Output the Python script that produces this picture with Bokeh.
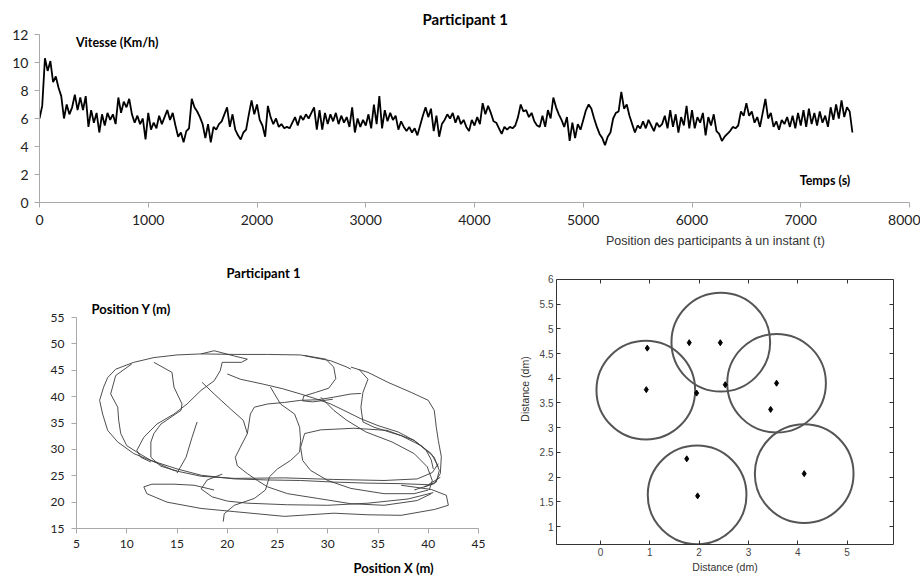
import math
from bokeh.plotting import figure
from bokeh.models import Range1d, Label, FixedTicker, LinearAxis, Title
from bokeh.layouts import column, row
from bokeh.embed import file_html
from bokeh.resources import INLINE

# ---------------- data : speed over time (sampled every 25 s) ----------------
step_s = 25
vitesse = [
    6.0, 6.9, 10.3, 9.4, 10.1, 8.6, 9.0, 8.2, 7.6, 6.0, 7.0, 6.3, 6.8, 7.7, 6.6, 7.5, 6.6, 7.6, 5.4, 6.6,
    5.7, 6.4, 5.0, 6.3, 5.5, 6.4, 5.9, 6.3, 5.6, 7.5, 6.4, 7.2, 6.8, 7.4, 6.3, 5.7, 6.2, 5.6, 6.0, 4.5,
    6.4, 5.2, 5.7, 5.3, 6.2, 5.6, 6.1, 6.6, 5.9, 6.4, 5.5, 4.7, 5.0, 4.3, 5.1, 5.3, 7.4, 6.8, 6.5, 6.1,
    5.6, 4.6, 5.6, 4.3, 5.4, 5.2, 5.6, 5.8, 6.3, 6.8, 5.4, 6.3, 5.2, 4.8, 4.5, 5.0, 5.2, 6.3, 7.3, 6.3,
    7.0, 5.9, 5.5, 4.7, 6.9, 6.1, 5.6, 6.0, 5.4, 5.6, 5.3, 5.4, 5.3, 5.7, 6.1, 5.5, 6.2, 5.9, 6.3, 6.0,
    6.4, 6.8, 5.2, 6.6, 5.2, 6.4, 5.6, 6.3, 5.8, 6.4, 5.6, 6.2, 5.7, 6.1, 5.4, 6.8, 5.0, 6.0, 5.4, 5.9,
    5.5, 6.3, 5.3, 7.0, 5.6, 7.6, 5.3, 6.6, 5.8, 6.4, 5.9, 6.2, 5.2, 5.8, 5.4, 5.1, 5.4, 5.0, 5.3, 4.8,
    5.5, 6.2, 6.8, 6.1, 6.7, 5.1, 6.2, 4.7, 5.6, 5.9, 6.3, 6.0, 6.4, 5.7, 6.2, 5.6, 5.9, 5.4, 5.1, 5.9,
    5.5, 6.1, 5.6, 7.1, 6.3, 6.9, 6.4, 5.8, 5.7, 5.3, 4.9, 5.4, 5.2, 5.4, 5.3, 5.5, 6.1, 7.0, 6.5, 6.6,
    6.1, 6.4, 5.8, 5.5, 5.4, 6.2, 5.4, 6.6, 6.0, 7.5, 6.8, 6.3, 5.9, 5.4, 6.1, 4.4, 5.7, 4.6, 5.6, 5.2,
    5.9, 6.6, 7.0, 6.7, 6.0, 5.4, 4.9, 4.6, 4.1, 4.7, 5.0, 6.0, 6.4, 6.5, 7.9, 6.7, 7.0, 6.2, 5.6, 5.0,
    5.5, 5.3, 5.8, 5.3, 5.9, 5.5, 5.1, 5.7, 5.4, 5.6, 6.2, 5.3, 6.6, 5.4, 6.3, 5.0, 6.1, 5.5, 6.9, 5.3,
    6.6, 5.3, 6.1, 5.7, 6.4, 4.8, 6.1, 5.5, 6.3, 5.1, 4.9, 4.4, 4.7, 4.9, 5.1, 5.4, 5.3, 5.5, 6.5, 6.2,
    7.1, 6.2, 6.5, 5.7, 6.1, 5.4, 6.4, 7.4, 6.0, 6.4, 5.4, 5.8, 5.2, 5.9, 5.6, 6.1, 5.4, 6.2, 5.3, 6.4,
    5.5, 6.6, 5.4, 6.7, 5.6, 6.4, 5.5, 6.5, 5.7, 6.2, 5.4, 6.8, 5.9, 7.0, 6.0, 7.3, 6.1, 6.8, 6.5, 5.0,
]
temps = [i * step_s for i in range(len(vitesse))]
x_ticks_top = [0, 1000, 2000, 3000, 4000, 5000, 6000, 7000, 8000]
y_ticks_top = [0, 2, 4, 6, 8, 10, 12]

# ---------------- data : trajectory strands (X m, Y m) ----------------
strand_01 = [(8.9,45.2),(10.7,46.5),(12.7,47.4),(15,47.9),(17.4,48.1),(20.7,48),(24,48),(27.3,47.9),(28.6,47.4),(30.3,46.8),(31.9,45.6),(32.3,45.2)]
strand_02 = [(32.3,45.6),(34,44.6),(36,42.7),(38.3,40.8),(40,39.3),(40.6,37.4),(40.8,34.2),(41,31.7),(41.3,28.6),(41.2,25.4),(40.6,23.5),(38.6,22.3)]
strand_03 = [(8.9,45.2),(8.1,43.6),(7.7,41.8),(7.3,39.3),(7.6,36.7),(8.1,33.6),(9.1,31.4),(10.7,29.2),(12.4,27.9),(15,26.3),(17.4,25.1),(20.7,24.4),(24,24.2),(27.3,24.1),(30.6,23.8),(34,23.6),(37.3,23.5),(40,23.3),(41.2,24.7)]
strand_04 = [(10.5,46.2),(8.9,44),(8.4,40.5),(9.1,38),(9.2,35.5),(9.4,33),(10,30.7),(11,29.5),(12.4,27.9),(14.7,26),(17.4,24.9),(20.7,24.5),(25.7,24.6),(30.6,24.3),(35.6,24.1),(38.9,24.4),(40.4,25.6),(41,27.3)]
strand_05 = [(17.4,48.1),(18.7,48.7),(20.7,47.7),(22,47.1),(21.4,46.5),(19.5,46.5),(19.3,44.9),(18.7,43),(17.4,41.2),(16,38.6),(14.7,36.7),(13,34.8),(11.7,32.3),(11,29.8),(11.4,28.5),(12.4,27.6)]
strand_06 = [(12.7,46.5),(14.5,44.6),(14.7,41.8),(15.5,38.6),(15.4,37.4),(13.4,34.8),(12.7,33),(12.4,31.4),(12.4,28.5),(13.4,26.8),(15,25.9)]
strand_07 = [(17,35.2),(16.5,32.3),(15.9,28.5),(15,25.5)]
strand_08 = [(17.5,42.7),(18.7,40.5),(20.3,37.7),(21.6,35.5),(22,33),(21.3,30.4),(20.8,28.5),(21,26.9),(22,25.4),(23,24.1),(24,22.9),(26,21.6),(29,20.7),(32.3,19.7),(35.6,19.4),(38.9,20.3),(40.3,21.6)]
strand_09 = [(20,44.3),(21.3,43.3),(23.5,42.4),(25.5,41.5),(27.3,40.5),(28.8,39.6),(30.3,38.6),(31.6,37.4),(33.3,35.8),(35,34.5),(37,33.3),(38.6,31.7),(39.8,29.8),(40.3,28),(40.5,26.3)]
strand_10 = [(27.7,47.8),(29.8,47.1),(30.6,45.6),(30.8,43.4),(30.1,41.6),(28.8,40.8),(27.6,40.1),(27.5,39.2),(28.5,39),(30.5,39.5)]
strand_11 = [(33.1,45.2),(34,43.3),(33.5,40.8),(33.3,38),(33.5,35.2),(34.6,34.2),(37.3,32.6),(39.3,30.7),(40.6,28.5),(41.1,26),(40.8,23.8),(39.6,22.9)]
strand_12 = [(22,33),(22.3,36.7),(22.7,38),(24,38.6),(25.7,38.9),(27.3,39.3),(29,39.4),(30.6,39.9),(32.3,40.5),(33.3,40.6)]
strand_13 = [(24.3,41.8),(25.3,38.6),(26.7,36.7),(27.2,34.2),(27.3,31.7),(27.2,29.5),(26.3,27.9),(25,26.3),(24.2,24.8),(23.8,22.3),(22.7,20.7),(20.7,19.4),(19.7,17.8),(19.6,16.3)]
strand_14 = [(29.3,39.9),(30.6,37.4),(31.9,35.5),(33.8,33.3),(36.4,31.4),(38.6,29.2),(39.9,26.7),(40.4,24.1),(40.1,22.3)]
strand_15 = [(41,26.7),(40.3,29.2),(38.6,31.7),(35.9,33.6),(32.6,34),(29.3,33.7),(27.7,33),(27.3,30.4),(27.5,27.9),(28.3,26),(30,24.1),(32.3,22.6),(35.6,21.6),(38.6,21.6),(40,22.3)]
strand_16 = [(37.3,23.2),(40.3,22.4),(41.8,21.3),(42,19.4),(40.6,18.6),(37.3,17.5),(34,17.6),(30.6,17.9),(25.7,17.3),(20.7,18.2),(17.4,18.8),(14,20),(12,21.6),(11.7,22.9),(12.5,23.4),(14.7,23.4),(16.7,23.2),(18.7,22.3)]
strand_17 = [(19.5,25.3),(18,24.2),(17.4,22.5),(18.5,21),(20,20.2),(22,19.8),(26,19.5),(30,19.4),(34,19.8),(38,20.6),(40.5,21.8)]
strands = [strand_01, strand_02, strand_03, strand_04, strand_05, strand_06, strand_07, strand_08, strand_09,
           strand_10, strand_11, strand_12, strand_13, strand_14, strand_15, strand_16, strand_17]
pos_x_ticks = [5, 10, 15, 20, 25, 30, 35, 40, 45]
pos_y_ticks = [15, 20, 25, 30, 35, 40, 45, 50, 55]

# ---------------- data : participants at instant t ----------------
circle_x = [0.92, 2.44, 3.57, 4.13, 1.96]
circle_y = [3.76, 4.73, 3.90, 2.07, 1.64]
circle_r = [1.0, 1.0, 1.0, 1.0, 1.0]
dot_x = [0.95, 0.93, 1.80, 2.43, 1.95, 2.53, 3.57, 3.45, 1.75, 1.97, 4.13]
dot_y = [4.61, 3.77, 4.72, 4.72, 3.70, 3.87, 3.90, 3.37, 2.37, 1.62, 2.07]
dist_x_ticks = [0, 1, 2, 3, 4, 5]
dist_y_ticks = [1, 1.5, 2, 2.5, 3, 3.5, 4, 4.5, 5, 5.5, 6]
dist_y_min, dist_y_max = 0.636, 6.0

FONT = "Lato"
AX_GRAY = "#a8a8a8"

def style_excel_axes(p, tick_size):
    for ax in p.xaxis + p.yaxis:
        ax.axis_line_color = AX_GRAY
        ax.major_tick_line_color = AX_GRAY
        ax.major_tick_out = 5
        ax.major_tick_in = 0
        ax.minor_tick_line_color = None
        ax.major_label_text_font = FONT
        ax.major_label_text_font_size = tick_size
        ax.major_label_text_color = "#222222"
    p.xgrid.visible = False
    p.ygrid.visible = False
    p.outline_line_color = None

def bold_title(text, size, align, offset, standoff):
    return Title(text=text, text_font=FONT, text_font_size=size, text_font_style="bold",
                 align=align, offset=offset, standoff=standoff, text_color="black")

# ---------------- top figure ----------------
p1 = figure(frame_width=870, frame_height=168, min_border_left=39, min_border_right=11,
            min_border_top=34, min_border_bottom=29,
            x_range=Range1d(0, 8000), y_range=Range1d(0, 12),
            output_backend="svg", toolbar_location=None)
p1.frame_align = False
style_excel_axes(p1, "14px")
p1.xaxis.ticker = FixedTicker(ticks=x_ticks_top)
p1.yaxis.ticker = FixedTicker(ticks=y_ticks_top)
p1.xaxis.major_label_standoff = 7
p1.yaxis.major_label_standoff = 6
p1.line(temps, vitesse, line_color="black", line_width=1.8)
p1.add_layout(bold_title("Participant 1", "15px", "left", 383, 13), "above")
p1.add_layout(Label(x=335, y=11.4, text="Vitesse (Km/h)", text_font=FONT, text_font_size="12.5px",
                    text_font_style="bold", text_color="black", text_align="left", text_baseline="middle"))
p1.add_layout(Label(x=6990, y=1.55, text="Temps (s)", text_font=FONT, text_font_size="12.5px",
                    text_font_style="bold", text_color="black", text_align="left", text_baseline="middle"))

# ---------------- bottom-left figure ----------------
p2 = figure(frame_width=402, frame_height=211, min_border_left=76, min_border_right=17,
            min_border_top=86, min_border_bottom=50,
            x_range=Range1d(5, 45), y_range=Range1d(15, 55),
            output_backend="svg", toolbar_location=None)
p2.frame_align = False
style_excel_axes(p2, "12px")
p2.xaxis.ticker = FixedTicker(ticks=pos_x_ticks)
p2.yaxis.ticker = FixedTicker(ticks=pos_y_ticks)
p2.xaxis.major_label_standoff = 6
p2.yaxis.major_label_standoff = 7
p2.multi_line([[pt[0] for pt in s] for s in strands], [[pt[1] for pt in s] for s in strands],
              line_color="#3a3a3a", line_width=0.9)
p2.add_layout(bold_title("Position Y (m)", "13px", "left", 15, 1), "above")
p2.add_layout(bold_title("Participant 1", "13px", "left", 150, 36), "above")
p2.add_layout(bold_title("Position X (m)", "13px", "left", 277, 14), "below")

# ---------------- bottom-right figure ----------------
AFONT = "Liberation Sans"
p3 = figure(frame_width=337, frame_height=311, min_border_left=61, min_border_right=27,
            min_border_top=2, min_border_bottom=34,
            x_range=Range1d(-0.89, 5.94), y_range=Range1d(dist_y_min, 6.93),
            output_backend="svg", toolbar_location=None)
p3.frame_align = False
top_axis = LinearAxis(fixed_location=dist_y_max)
p3.add_layout(top_axis, "above")
p3.add_layout(LinearAxis(bounds=(dist_y_min, dist_y_max)), "right")
p3.xgrid.visible = False
p3.ygrid.visible = False
p3.outline_line_color = None
for ax in p3.xaxis + p3.yaxis:
    ax.axis_line_color = "#333333"
    ax.major_tick_line_color = "#333333"
    ax.major_tick_in = 4
    ax.major_tick_out = 0
    ax.minor_tick_line_color = None
    ax.major_label_text_font = AFONT
    ax.major_label_text_font_size = "10px"
    ax.major_label_text_color = "#444444"
    ax.major_label_standoff = 3
    ax.axis_label_text_font = AFONT
    ax.axis_label_text_font_size = "10.5px"
    ax.axis_label_text_font_style = "normal"
    ax.axis_label_text_color = "#333333"
p3.xaxis.ticker = FixedTicker(ticks=dist_x_ticks)
p3.yaxis.ticker = FixedTicker(ticks=dist_y_ticks)
p3.left[0].bounds = (dist_y_min, dist_y_max)
p3.yaxis.major_label_overrides = {t: ("%g" % t) for t in dist_y_ticks}
p3.above[0].major_label_overrides = {t: "" for t in dist_x_ticks}
p3.right[0].major_label_overrides = {t: "" for t in dist_y_ticks}
p3.above[0].major_label_standoff = 0
p3.right[0].major_label_standoff = 0
p3.below[0].axis_label = "Distance (dm)"
p3.below[0].axis_label_standoff = 2
p3.left[0].axis_label = "Distance (dm)"
p3.left[0].axis_label_standoff = 6
p3.circle(circle_x, circle_y, radius=circle_r, fill_color=None, line_color="#555555", line_width=2)
p3.scatter(dot_x, dot_y, marker="diamond", size=6, fill_color="black", line_color="black")
p3.add_layout(Label(x=2.33, y=6.77, text="Position des participants à un instant (t)", text_font=AFONT,
                    text_font_size="12.5px", text_color="#333333", text_align="center", text_baseline="middle"))

layout = column(p1, row(p2, p3))
open("out.html", "w").write(file_html(layout, INLINE))
